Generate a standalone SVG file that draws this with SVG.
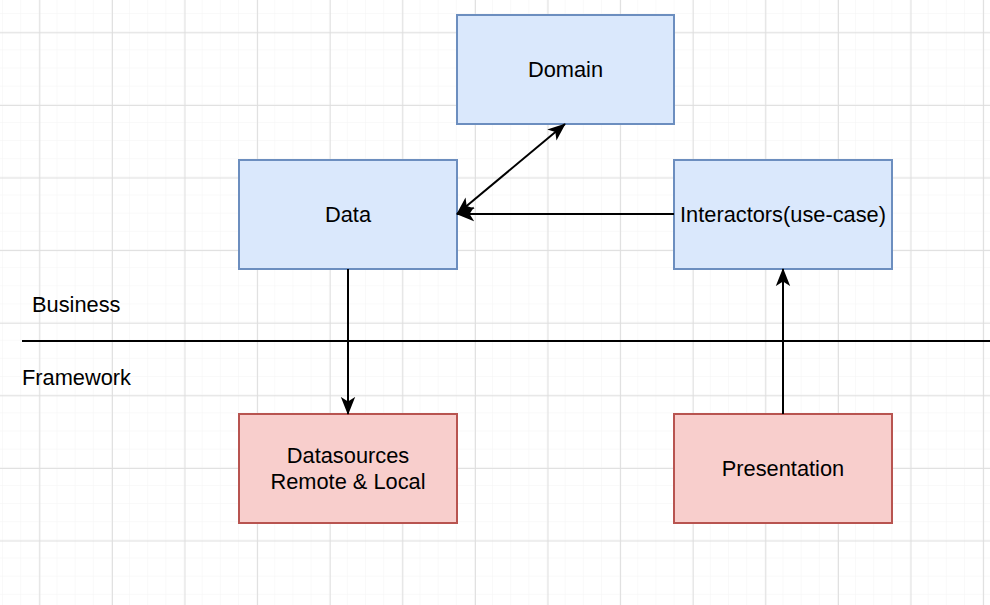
<svg xmlns="http://www.w3.org/2000/svg" width="990" height="605" viewBox="0 0 990 605">
<defs>
<pattern id="minor" x="3" y="14" width="18.15" height="18.15" patternUnits="userSpaceOnUse">
<path d="M18.15 0V18.15M0 18.15H18.15" fill="none" stroke="#f3f3f3" stroke-width="1"/>
</pattern>
<pattern id="major" x="39.3" y="32.3" width="72.6" height="72.6" patternUnits="userSpaceOnUse">
<path d="M0.5 0V72.6M0 0.5H72.6" fill="none" stroke="#dedede" stroke-width="1"/>
</pattern>
<marker id="arrL" viewBox="0 0 20 20" refX="19" refY="10" markerWidth="18" markerHeight="18" markerUnits="userSpaceOnUse" orient="auto-start-reverse">
<path d="M0 2L20 10L0 18L5 10Z" fill="#000"/>
</marker>
</defs>
<style>
.blue{fill:#dae8fc;stroke:#6c8ebf;stroke-width:2}
.red{fill:#f8cecc;stroke:#b85450;stroke-width:2}
text{font-family:"Liberation Sans",Arial,sans-serif;font-size:21.8px;fill:#000}
.c{text-anchor:middle}
.edge{fill:none;stroke:#000;stroke-width:2}
</style>
<rect width="990" height="605" fill="#fff"/>
<rect width="990" height="605" fill="url(#minor)"/>
<rect width="990" height="605" fill="url(#major)"/>

<g id="divider">
<line x1="22" y1="341" x2="990" y2="341" stroke="#000" stroke-width="2"/>
<text x="32" y="312">Business</text>
<text x="22" y="385">Framework</text>
</g>

<g id="domain"><rect class="blue" x="457" y="15" width="217" height="109"/><text class="c" x="565.5" y="77">Domain</text></g>
<g id="data"><rect class="blue" x="239" y="160" width="218" height="109"/><text class="c" x="348" y="222">Data</text></g>
<g id="interactors"><rect class="blue" x="674" y="160" width="218" height="109"/><text class="c" x="783" y="222">Interactors(use-case)</text></g>
<g id="datasources"><rect class="red" x="239" y="414" width="218" height="109"/><text class="c" x="348" y="463">Datasources</text><text class="c" x="348" y="489">Remote &amp; Local</text></g>
<g id="presentation"><rect class="red" x="674" y="414" width="218" height="109"/><text class="c" x="783" y="476">Presentation</text></g>

<g id="connectors">
<line class="edge" x1="457" y1="214" x2="565" y2="124" marker-start="url(#arrL)" marker-end="url(#arrL)"/>
<line class="edge" x1="674" y1="214" x2="457" y2="214" marker-end="url(#arrL)"/>
<line class="edge" x1="348" y1="269" x2="348" y2="414" marker-end="url(#arrL)"/>
<line class="edge" x1="783" y1="414" x2="783" y2="269" marker-end="url(#arrL)"/>
</g>
</svg>
